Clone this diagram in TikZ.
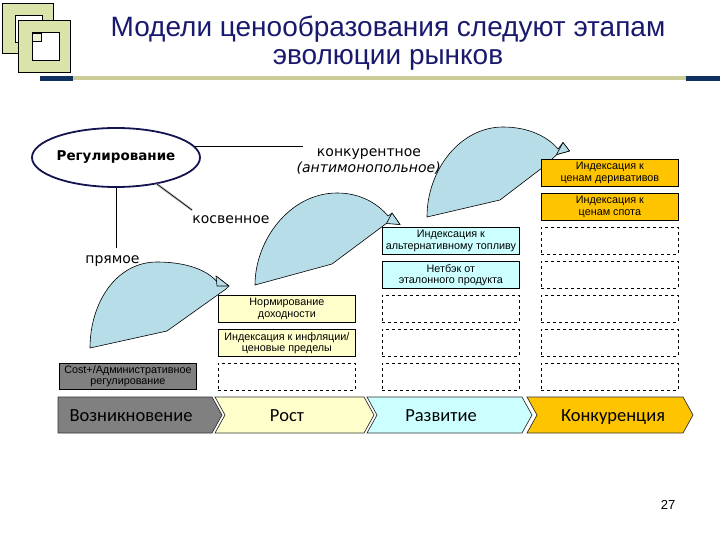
\documentclass[tikz,border=0pt]{standalone}
\usepackage{fontspec}
\setmainfont{DejaVu Sans}
\newfontfamily\arialf{Liberation Sans}
\newfontfamily\calib{Carlito}
\usetikzlibrary{shapes.geometric}
\definecolor{navy}{RGB}{25,25,110}
\definecolor{ellnavy}{RGB}{20,20,80}
\definecolor{barnavy}{RGB}{16,48,96}
\definecolor{olivebar}{RGB}{204,204,153}
\definecolor{logogreen}{RGB}{218,228,170}
\definecolor{arrowblue}{RGB}{183,221,232}
\definecolor{pyellow}{RGB}{255,255,204}
\definecolor{pcyan}{RGB}{204,255,255}
\definecolor{gold}{RGB}{255,196,0}
\definecolor{dgray}{RGB}{128,128,128}
\begin{document}
\begin{tikzpicture}[x=1pt,y=-1pt,
  box/.style={draw=black, line width=0.8pt, minimum width=137pt, minimum height=27pt,
    inner sep=0pt, align=center, anchor=north west,
    font=\arialf\fontsize{10.8}{11.2}\selectfont},
  emptybox/.style={box, dashed, fill=white},
  lbl/.style={font=\fontsize{14}{16}\selectfont, inner sep=0pt, anchor=base},
  arrowshape/.style={draw=black, line width=0.6pt, fill=arrowblue, line join=round},
  chev/.style={draw=black!80, line width=0.7pt},
  chevtxt/.style={font=\calib\fontsize{18.5}{20}\selectfont, text=black, inner sep=0pt, anchor=base},
  logo/.style={draw=black, line width=0.8pt}
]
\useasboundingbox (0,0) rectangle (720,540);

% logo
\path[logo, fill=logogreen] (2,3) rectangle (53,53);
\path[logo, fill=white] (15,15) rectangle (42,42);
\path[logo, fill=logogreen] (18,20) rectangle (70,72);
\path[logo, fill=white] (32,32) rectangle (59,60);
\path[logo, fill=logogreen!50] (32.7,33) rectangle (41,41);

% bar
\fill[barnavy] (40,76) rectangle (73,81);
\fill[olivebar] (73,76.5) rectangle (686,80.5);
\fill[barnavy] (686,76) rectangle (720,81);

% title
\node[font=\arialf\fontsize{28}{30}\selectfont, text=navy, anchor=base, inner sep=0pt] (t1) at (388,37) {Модели ценообразования следуют этапам};
\node[font=\arialf\fontsize{28}{30}\selectfont, text=navy, anchor=base, inner sep=0pt] (t2) at (388,65) {эволюции рынков};

% regulation ellipse
\node[ellipse, draw=ellnavy, line width=1.8pt, minimum width=138pt, minimum height=59pt,
  inner sep=0pt, font=\bfseries\fontsize{13.5}{15}\selectfont] (reg) at (116,157.5) {Регулирование};

% labels
\node[lbl] (kon) at (369,157) {конкурентное};
\node[lbl, font=\itshape\fontsize{14}{16}\selectfont] (anti) at (368.7,173) {(антимонопольное)};
\node[lbl] (kos) at (231,224) {косвенное};
\node[lbl] (pry) at (112.5,263) {прямое};

\coordinate (konL) at (303,153);
\coordinate (kosT) at (192,210);
\coordinate (pryT) at (117,248);
\draw[line width=0.8pt] (reg.8) -- (reg.8 -| konL);
\draw[line width=0.8pt] (reg.south) -- (reg.south |- pryT);
\draw[draw=gray!55, line width=2.2pt] (reg.-33) -- (kosT);
\draw[black, line width=0.6pt] (reg.-33) -- (kosT);

% curved arrows
\path[arrowshape] (90,348) .. controls (90,303) and (116,262) .. (157,262)
  .. controls (186,262) and (208,270) .. (218,283) -- (216,276) -- (229,286) -- (226,289)
  -- (167,331) -- cycle;
\path[arrowshape] (216,276) -- (229,286) -- (217,286) -- cycle;
\path[arrowshape] (255,285) .. controls (255,240) and (290,193) .. (337,193)
  .. controls (361,193) and (378,204) .. (388,216) -- (392,213) -- (400,224.5) -- (387,223)
  -- (332,264) -- cycle;
\path[arrowshape] (392,213) -- (400,224.5) -- (386.5,223.5) -- cycle;
\path[arrowshape] (427,217) .. controls (427,170) and (460,127) .. (503,127)
  .. controls (529,127) and (548,137) .. (558,149) -- (563,142.5) -- (569.5,151) -- (557,154.5)
  -- (542,168) -- (500,200) -- cycle;
\path[arrowshape] (563,142.5) -- (569.5,151) -- (556.5,154.5) -- cycle;

% column 1
\node[box, fill=dgray, minimum height=26pt] (c1a) at (59,363) {Cost+/Административное\\регулирование};
% column 2
\node[box, fill=pyellow] (c2a) at (218,295) {Нормирование\\доходности};
\node[box, fill=pyellow] (c2b) at (218,329) {Индексация к инфляции/\\ценовые пределы};
\node[emptybox] (c2c) at (218,363) {};
% column 3
\node[box, fill=pcyan] (c3a) at (382,227) {Индексация к\\альтернативному топливу};
\node[box, fill=pcyan] (c3b) at (382,261) {Нетбэк от\\эталонного продукта};
\node[emptybox] (c3c) at (382,295) {};
\node[emptybox] (c3d) at (382,329) {};
\node[emptybox] (c3e) at (382,363) {};
% column 4
\node[box, fill=gold] (c4a) at (541,159) {Индексация к\\ценам деривативов};
\node[box, fill=gold] (c4b) at (541,193) {Индексация к\\ценам спота};
\node[emptybox] (c4c) at (541,227) {};
\node[emptybox] (c4d) at (541,261) {};
\node[emptybox] (c4e) at (541,295) {};
\node[emptybox] (c4f) at (541,329) {};
\node[emptybox] (c4g) at (541,363) {};

% chevrons
\path[chev, fill=dgray] (58,397) -- (212,397) -- (222,415) -- (212,433) -- (58,433) -- cycle;
\path[chev, fill=pyellow] (215,397) -- (364,397) -- (374,415) -- (364,433) -- (215,433) -- (225,415) -- cycle;
\path[chev, fill=pcyan] (367,397) -- (522,397) -- (532,415) -- (522,433) -- (367,433) -- (377,415) -- cycle;
\path[chev, fill=gold] (527,397) -- (683,397) -- (693,415) -- (683,433) -- (527,433) -- (537,415) -- cycle;
\node[chevtxt] (s1) at (131,421) {Возникновение};
\node[chevtxt] (s2) at (287,421) {Рост};
\node[chevtxt] (s3) at (441,421) {Развитие};
\node[chevtxt] (s4) at (613,421) {Конкуренция};

% page number
\node[font=\arialf\fontsize{13}{15}\selectfont, inner sep=0pt] (pg) at (668,505) {27};
\end{tikzpicture}
\end{document}
